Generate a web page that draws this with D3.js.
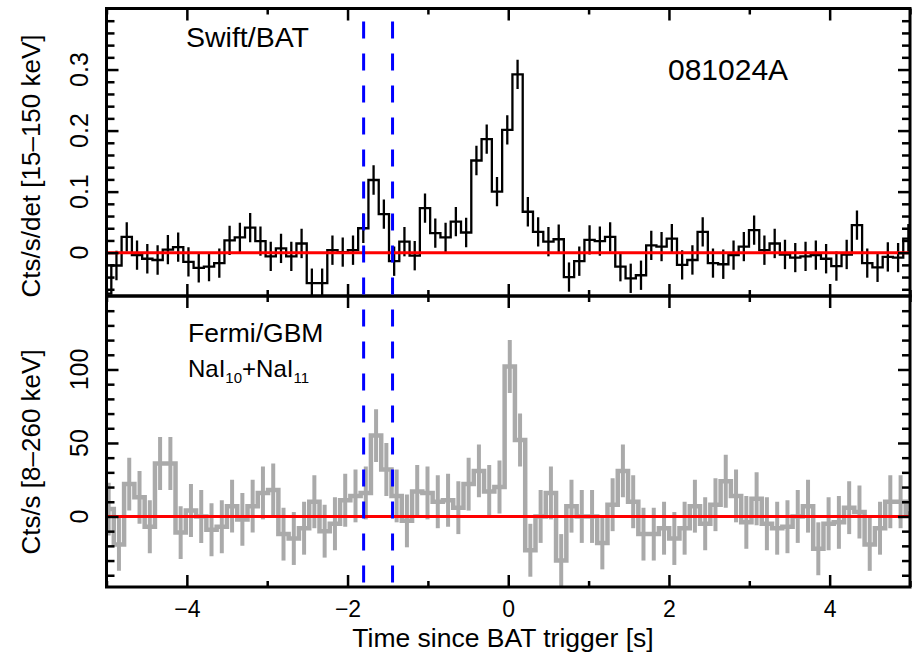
<!DOCTYPE html>
<html>
<head>
<meta charset="utf-8">
<script src="https://cdn.jsdelivr.net/npm/d3@7"></script>
<style>
  body { margin: 0; background: #fff; }
  text { font-family: "Liberation Sans", Arial, Helvetica, sans-serif; fill: #000; }
</style>
</head>
<body>
<div id="chart"></div>
<script>
// 128 ms light curves; the two instruments have slightly shifted bin edges
const binWidth = 0.128;
const batStart = -5.068;
const gbmStart = -5.037;

// Swift/BAT rate [cts/s/det]
const batRate = [
  -0.067, -0.021, 0.026, -0.004, -0.010, -0.012, 0.005, 0.009, -0.015, -0.025,
  -0.023, -0.017, 0.020, 0.025, 0.041, 0.019, -0.006, 0.007, -0.006, 0.015,
  -0.050, -0.050, 0.004, 0.001, 0.004, 0.040, 0.119, 0.063, -0.014, 0.018,
  -0.005, 0.073, 0.032, 0.025, 0.051, 0.033, 0.151, 0.186, 0.100, 0.201,
  0.292, 0.067, 0.034, 0.018, 0.022, -0.040, -0.014, 0.021, 0.019, 0.026,
  -0.023, -0.042, -0.037, 0.012, 0.010, 0.023, -0.020, -0.012, 0.034, -0.017,
  -0.019, -0.004, 0.010, 0.037, 0.004, 0.015, -0.003, -0.008, -0.006, -0.004,
  -0.010, -0.022, -0.003, 0.045, -0.017, -0.024, -0.007, -0.008, 0.023
];
const batErr = 0.024;

// Fermi/GBM NaI10+NaI11 rate [cts/s]
const gbmRate = [
  5, -19, 22, 13, -7, 36, 36, -11, 4, 0,
  -9, -7, 7, -2, 7, 16, 18, -12, -15, -8,
  10, -10, -5, 11, 14, 16, 55, 32, 14, -3,
  17, 16, 10, 11, 6, 22, 31, 17, 20, 102,
  52, -23, 0, 16, -30, 7, 0, 0, -18, 8,
  31, 10, -12, -12, -8, -15, -8, 7, -5, 8,
  24, 14, -4, 12, -5, -8, -7, 0, 7, -22,
  -5, -4, 6, 3, -19, -8, 10, 10, 2
];
const gbmErr = 18;

// blue dashed marks
const markerTimes = [-1.80, -1.44];

// ticks
const xMajor = [-4, -2, 0, 2, 4];
const xMinor = [-5, -3, -1, 1, 3, 5];
const batMajor = [0, 0.1, 0.2, 0.3];
const batMinor = [-0.06, -0.04, -0.02, 0.02, 0.04, 0.06, 0.08, 0.12, 0.14, 0.16, 0.18,
  0.22, 0.24, 0.26, 0.28, 0.32, 0.34, 0.36, 0.38];
const gbmMajor = [0, 50, 100];
const gbmMinor = [-40, -30, -20, -10, 10, 20, 30, 40, 60, 70, 80, 90, 110, 120, 130, 140];

const W = 916, H = 653;
const plotL = 106.5, plotR = 910, plotT = 8.5, plotMid = 296, plotB = 587;

const x = d3.scaleLinear().domain([-5, 5]).range([plotL, plotR]);
const yBat = d3.scaleLinear().domain([-0.071, 0.4]).range([plotMid, plotT]);
const yGbm = d3.scaleLinear().domain([-48, 150]).range([plotB, plotMid]);

const svg = d3.select("#chart").append("svg")
  .attr("width", W)
  .attr("height", H)
  .style("background-color", "#fff");

const defs = svg.append("defs");
defs.append("clipPath").attr("id", "clipBat")
  .append("rect").attr("x", plotL).attr("y", plotT).attr("width", plotR - plotL).attr("height", plotMid - plotT);
defs.append("clipPath").attr("id", "clipGbm")
  .append("rect").attr("x", plotL).attr("y", plotMid).attr("width", plotR - plotL).attr("height", plotB - plotMid);

function drawCurve(rate, start, err, y, clip, color, lw, ew) {
  const g = svg.append("g").attr("clip-path", "url(#" + clip + ")");
  const pts = rate.map((v, i) => [start + i * binWidth, v]);
  pts.push([start + rate.length * binWidth, rate[rate.length - 1]]);

  // error bars at bin centres
  g.selectAll("line.err")
    .data(rate)
    .enter()
    .append("line")
    .attr("class", "err")
    .attr("x1", (d, i) => x(start + (i + 0.5) * binWidth))
    .attr("x2", (d, i) => x(start + (i + 0.5) * binWidth))
    .attr("y1", d => y(d - err))
    .attr("y2", d => y(d + err))
    .attr("stroke", color)
    .attr("stroke-width", ew);

  const line = d3.line()
    .x(d => x(d[0]))
    .y(d => y(d[1]))
    .curve(d3.curveStepAfter);
  g.append("path")
    .datum(pts)
    .attr("d", line)
    .attr("fill", "none")
    .attr("stroke", color)
    .attr("stroke-width", lw)
    .attr("stroke-linejoin", "miter");

  // zero level
  g.append("line")
    .attr("x1", plotL).attr("x2", plotR)
    .attr("y1", y(0)).attr("y2", y(0))
    .attr("stroke", "#ff0000")
    .attr("stroke-width", 3);
}

drawCurve(batRate, batStart, batErr, yBat, "clipBat", "#000", 2.3, 2.3);
drawCurve(gbmRate, gbmStart, gbmErr, yGbm, "clipGbm", "#aaaaaa", 4.5, 4);

// ticks pointing inwards on all four sides
function ticks(axis, tx, ty, vals, size) {
  const g = svg.append("g")
    .attr("transform", "translate(" + tx + "," + ty + ")")
    .call(axis.tickValues(vals).tickSize(-size).tickSizeOuter(0).tickFormat(""));
  g.select(".domain").remove();
  g.selectAll(".tick line").attr("stroke", "#000").attr("stroke-width", 2.5);
  return g;
}

[[yBat, plotT, plotMid], [yGbm, plotMid, plotB]].forEach(([y, y0, y1], k) => {
  ticks(d3.axisTop(x), 0, y0, xMajor, 12);
  ticks(d3.axisTop(x), 0, y0, xMinor, 6);
  ticks(d3.axisBottom(x), 0, y1, xMajor, 12);
  ticks(d3.axisBottom(x), 0, y1, xMinor, 6);
  const maj = k === 0 ? batMajor : gbmMajor;
  const mnr = k === 0 ? batMinor : gbmMinor;
  ticks(d3.axisLeft(y), plotL, 0, maj, 12);
  ticks(d3.axisLeft(y), plotL, 0, mnr, 8);
  ticks(d3.axisRight(y), plotR, 0, maj, 12);
  ticks(d3.axisRight(y), plotR, 0, mnr, 8);
});

// frames
svg.append("rect")
  .attr("x", plotL).attr("y", plotT).attr("width", plotR - plotL).attr("height", plotMid - plotT)
  .attr("fill", "none").attr("stroke", "#000").attr("stroke-width", 3);
svg.append("rect")
  .attr("x", plotL).attr("y", plotMid).attr("width", plotR - plotL).attr("height", plotB - plotMid)
  .attr("fill", "none").attr("stroke", "#000").attr("stroke-width", 3);

// x tick labels
const xLab = svg.append("g")
  .attr("transform", "translate(0," + plotB + ")")
  .call(d3.axisBottom(x).tickValues(xMajor).tickSize(0).tickPadding(14));
xLab.select(".domain").remove();
xLab.selectAll("text")
  .style("font-size", "23px")
  .style("font-family", "'Liberation Sans', Arial, sans-serif");

// rotated y tick labels
function yLabels(y, vals) {
  svg.append("g").selectAll("text")
    .data(vals)
    .enter()
    .append("text")
    .attr("transform", d => "translate(88," + y(d) + ") rotate(-90)")
    .attr("text-anchor", "middle")
    .style("font-size", "25px")
    .text(d => d3.format("")(d));
}
yLabels(yBat, batMajor);
yLabels(yGbm, gbmMajor);

// axis titles
svg.append("text")
  .attr("transform", "translate(40,166) rotate(-90)")
  .attr("text-anchor", "middle")
  .style("font-size", "26px")
  .text("Cts/s/det [15\u2013150 keV]");
svg.append("text")
  .attr("transform", "translate(40,452) rotate(-90)")
  .attr("text-anchor", "middle")
  .style("font-size", "26px")
  .text("Cts/s [8\u2013260 keV]");
svg.append("text")
  .attr("x", 503).attr("y", 647)
  .attr("text-anchor", "middle")
  .style("font-size", "26.5px")
  .text("Time since BAT trigger [s]");

// panel annotations
svg.append("text")
  .attr("x", 186).attr("y", 47)
  .style("font-size", "28.5px")
  .text("Swift/BAT");
svg.append("text")
  .attr("x", 668).attr("y", 80)
  .style("font-size", "30px")
  .text("081024A");
svg.append("text")
  .attr("x", 188).attr("y", 342)
  .style("font-size", "26.5px")
  .text("Fermi/GBM");
const nai = svg.append("text")
  .attr("x", 188).attr("y", 377)
  .style("font-size", "24px");
nai.append("tspan").text("NaI");
nai.append("tspan").attr("dy", 6).style("font-size", "15px").text("10");
nai.append("tspan").attr("dy", -6).text("+NaI");
nai.append("tspan").attr("dy", 6).style("font-size", "15px").text("11");

// blue dashed time markers through both panels
svg.append("g").selectAll("line")
  .data(markerTimes)
  .enter()
  .append("line")
  .attr("x1", d => x(d)).attr("x2", d => x(d))
  .attr("y1", plotT).attr("y2", plotB)
  .attr("stroke", "#0000ff")
  .attr("stroke-width", 3)
  .attr("stroke-dasharray", "17,15")
  .attr("stroke-dashoffset", 19);
</script>
</body>
</html>
